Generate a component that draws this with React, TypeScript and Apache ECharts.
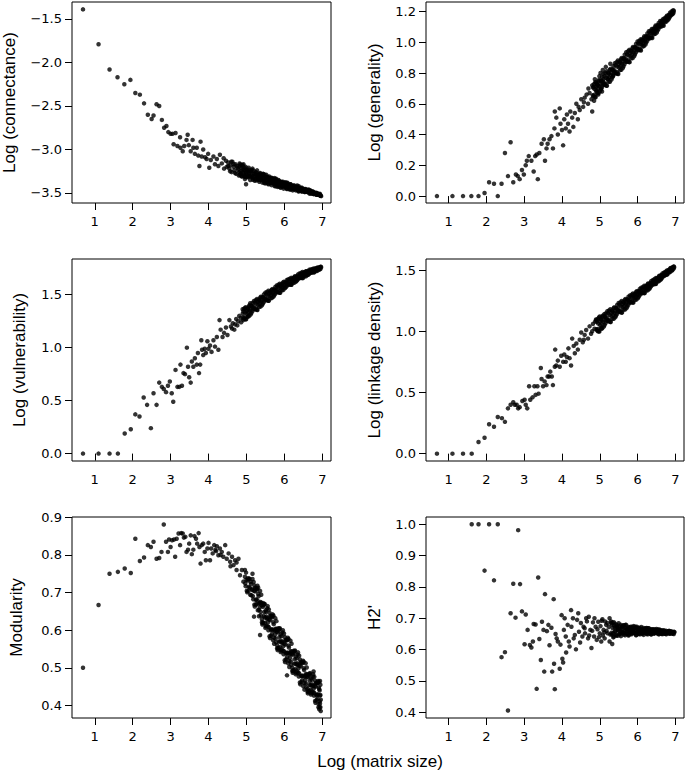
import React, { useEffect, useRef } from "react";
import * as echarts from "echarts";

const xTicks = [1, 2, 3, 4, 5, 6, 7];
const connectanceTicks = [-3.5, -3.0, -2.5, -2.0, -1.5];
const generalityTicks = [0, 0.2, 0.4, 0.6, 0.8, 1.0, 1.2];
const vulnerabilityTicks = [0, 0.5, 1.0, 1.5];
const linkageTicks = [0, 0.5, 1.0, 1.5];
const modularityTicks = [0.4, 0.5, 0.6, 0.7, 0.8, 0.9];
const h2Ticks = [0.4, 0.5, 0.6, 0.7, 0.8, 0.9, 1.0];

const yNames = ["Log (connectance)", "Log (generality)", "Log (vulnerability)", "Log (linkage density)", "Modularity", "H2'"];
const xName = "Log (matrix size)";

const connectance = [
  [0.69,-1.39],[1.10,-1.79],[1.39,-2.08],[1.60,-2.17],[1.78,-2.25],[1.94,-2.20],[2.07,-2.35],[2.19,-2.37],[2.30,-2.47],[2.40,-2.60],
  [2.50,-2.65],[2.55,-2.61],[2.63,-2.48],[2.70,-2.50],[2.77,-2.66],[2.83,-2.75],[2.89,-2.73],[2.94,-2.80],[3.00,-2.82],[3.05,-2.82],
  [3.13,-2.81],[3.08,-2.94],[3.18,-2.96],[3.25,-2.86],[3.26,-2.98],[3.32,-3.02],[3.36,-2.96],[3.42,-2.89],[3.45,-2.83],[3.48,-2.95],
  [3.53,-3.02],[3.58,-2.89],[3.60,-2.98],[3.64,-3.05],[3.69,-2.98],[3.73,-3.07],[3.76,-3.19],[3.79,-2.91],[3.82,-3.08],[3.86,-3.00],
  [3.91,-3.09],[3.95,-3.11],[3.99,-3.05],[4.02,-3.21],[4.06,-3.12],[4.13,-3.08],[4.17,-3.17],[4.22,-3.11],[4.26,-3.19],[4.30,-3.06],
  [4.35,-3.16],[4.41,-3.22],[4.46,-3.13],[4.52,-3.19],[4.57,-3.25],[4.66,-3.17],[4.70,-3.27],[4.76,-3.21],[4.83,-3.29],[4.92,-3.17],
  [4.99,-3.40],[4.96,-3.31],[4.40,-3.10],[4.48,-3.20],[4.60,-3.14],
  [4.52,-3.15],[4.55,-3.22],[4.58,-3.18],[4.61,-3.26],[4.63,-3.14],[4.66,-3.20],[4.68,-3.24],[4.71,-3.17],[4.73,-3.28],[4.75,-3.19],
  [4.78,-3.23],[4.80,-3.30],[4.82,-3.16],[4.84,-3.25],[4.86,-3.21],[4.88,-3.31],[4.90,-3.18],[4.92,-3.27],[4.94,-3.23],[4.96,-3.34],
  [4.98,-3.20],[5.00,-3.29],[5.02,-3.24],[5.04,-3.32],[5.06,-3.21],[5.08,-3.27],[5.10,-3.35],[5.12,-3.25],[5.14,-3.30],[5.16,-3.22],
  [5.18,-3.33],[5.20,-3.28],[5.22,-3.36],[5.24,-3.26],[5.26,-3.31],[5.28,-3.24],[5.30,-3.34],[5.32,-3.29],[5.34,-3.37],[5.36,-3.27],
  [5.38,-3.32],[5.40,-3.30],[5.42,-3.38],[5.44,-3.28],[5.46,-3.34],[5.48,-3.31],[5.50,-3.39],[5.52,-3.29],[5.54,-3.35],[5.56,-3.32],
  [5.58,-3.40],[5.60,-3.31],[5.62,-3.36],[5.64,-3.33],[5.66,-3.41],[5.68,-3.33],[5.70,-3.38],[5.72,-3.35],[5.74,-3.42],[5.76,-3.34],
  [5.78,-3.39],[5.80,-3.36],[5.82,-3.43],[5.84,-3.35],[5.86,-3.40],[5.88,-3.38],[5.90,-3.44],[5.92,-3.37],[5.94,-3.41],[5.96,-3.39],
  [5.98,-3.45],[6.00,-3.38],[6.02,-3.42],[6.04,-3.40],[6.06,-3.45],[6.08,-3.39],[6.10,-3.43],[6.12,-3.41],[6.14,-3.46],[6.16,-3.40],
  [6.18,-3.44],[6.20,-3.42],[6.22,-3.47],[6.24,-3.42],[6.26,-3.45],[6.28,-3.43],[6.30,-3.47],[6.32,-3.43],[6.34,-3.46],[6.36,-3.44],
  [6.38,-3.48],[6.40,-3.44],[6.42,-3.47],[6.44,-3.45],[6.46,-3.48],[6.48,-3.45],[6.50,-3.47],[6.52,-3.46],[6.54,-3.49],[6.56,-3.46],
  [6.58,-3.48],[6.60,-3.47],[6.62,-3.49],[6.64,-3.47],[6.66,-3.49],[6.68,-3.48],[6.70,-3.50],[6.72,-3.48],[6.74,-3.50],[6.76,-3.49],
  [6.78,-3.51],[6.80,-3.50],[6.82,-3.51],[6.84,-3.50],[6.86,-3.52],[6.88,-3.51],[6.90,-3.52],[6.92,-3.52],[6.94,-3.53],[6.96,-3.53],
  [4.81,-3.258],[4.84,-3.173],[4.87,-3.305],[4.90,-3.227],[4.93,-3.303],[4.96,-3.211],[4.99,-3.273],[5.02,-3.243],[5.05,-3.307],[5.08,-3.275],
  [5.11,-3.309],[5.14,-3.236],[5.17,-3.348],[5.20,-3.280],[5.23,-3.344],[5.26,-3.264],[5.29,-3.317],[5.32,-3.287],[5.35,-3.347],[5.38,-3.317],
  [5.41,-3.349],[5.44,-3.282],[5.47,-3.386],[5.50,-3.323],[5.53,-3.379],[5.56,-3.313],[5.59,-3.358],[5.62,-3.332],[5.65,-3.386],[5.68,-3.360],
  [5.71,-3.389],[5.74,-3.329],[5.77,-3.423],[5.80,-3.368],[5.83,-3.418],[5.86,-3.358],[5.89,-3.400],[5.92,-3.377],[5.95,-3.425],[5.98,-3.403],
  [6.01,-3.427],[6.04,-3.378],[6.07,-3.454],[6.10,-3.409],[6.13,-3.452],[6.16,-3.399],[6.19,-3.434],[6.22,-3.415],[6.25,-3.455],[6.28,-3.436],
  [6.31,-3.457],[6.34,-3.414],[6.37,-3.481],[6.40,-3.443],[6.43,-3.477],[6.46,-3.438],[6.49,-3.465],[6.52,-3.453],[6.55,-3.483],[6.58,-3.471],
  [6.61,-3.488],[6.64,-3.460],[6.67,-3.508],[6.70,-3.484],[6.73,-3.508],[6.76,-3.484],[6.79,-3.504],[6.82,-3.498],[6.85,-3.518],[6.88,-3.511],
  [6.91,-3.522],[6.94,-3.510],[6.97,-3.536],
  [4.82,-3.193],[4.85,-3.274],[4.88,-3.183],[4.91,-3.265],[4.94,-3.236],[4.97,-3.317],[5.00,-3.261],[5.03,-3.312],[5.06,-3.231],[5.09,-3.303],
  [5.12,-3.252],[5.15,-3.320],[5.18,-3.242],[5.21,-3.310],[5.24,-3.285],[5.27,-3.355],[5.30,-3.304],[5.33,-3.350],[5.36,-3.278],[5.39,-3.343],
  [5.42,-3.298],[5.45,-3.359],[5.48,-3.290],[5.51,-3.351],[5.54,-3.329],[5.57,-3.392],[5.60,-3.347],[5.63,-3.389],[5.66,-3.325],[5.69,-3.383],
  [5.72,-3.343],[5.75,-3.398],[5.78,-3.337],[5.81,-3.392],[5.84,-3.373],[5.87,-3.429],[5.90,-3.390],[5.93,-3.427],[5.96,-3.371],[5.99,-3.423],
  [6.02,-3.389],[6.05,-3.436],[6.08,-3.383],[6.11,-3.429],[6.14,-3.412],[6.17,-3.459],[6.20,-3.427],[6.23,-3.456],[6.26,-3.412],[6.29,-3.453],
  [6.32,-3.427],[6.35,-3.463],[6.38,-3.423],[6.41,-3.461],[6.44,-3.449],[6.47,-3.483],[6.50,-3.461],[6.53,-3.485],[6.56,-3.454],[6.59,-3.484],
  [6.62,-3.467],[6.65,-3.494],[6.68,-3.469],[6.71,-3.495],[6.74,-3.489],[6.77,-3.513],[6.80,-3.501],[6.83,-3.517],[6.86,-3.499],[6.89,-3.519],
  [6.92,-3.511],[6.95,-3.528]
];

const generality = [
  [0.69,0],[1.10,0],[1.38,0],[1.60,0],[1.79,0],[1.95,0.02],[2.07,0.09],[2.20,0.08],[2.30,0],[2.40,0.08],
  [2.49,0.28],[2.57,0.13],[2.64,0.35],[2.71,0.09],[2.78,0.14],[2.83,0.13],[2.88,0.11],[2.94,0.17],[2.99,0.14],[3.04,0.20],
  [3.07,0.23],[3.12,0.26],[3.19,0.23],[3.25,0.16],[3.29,0.26],[3.33,0.27],[3.36,0.11],[3.40,0.28],[3.46,0.34],[3.52,0.37],
  [3.55,0.23],[3.59,0.31],[3.62,0.34],[3.67,0.37],[3.72,0.39],[3.76,0.31],[3.80,0.44],[3.81,0.55],[3.85,0.51],[3.89,0.40],
  [3.94,0.57],[3.96,0.47],[4.00,0.43],[4.03,0.33],[4.06,0.50],[4.10,0.44],[4.13,0.53],[4.16,0.47],[4.20,0.42],[4.22,0.55],
  [4.27,0.51],[4.30,0.45],[4.34,0.54],[4.38,0.60],[4.42,0.50],[4.47,0.56],[4.51,0.63],[4.56,0.58],[4.60,0.64],[4.65,0.66],
  [4.69,0.60],[4.73,0.67],[4.78,0.63],[4.80,0.55],[4.84,0.71],[4.87,0.76],[4.91,0.68],[4.95,0.72],[4.99,0.78],[5.04,0.70],
  [5.08,0.82],[5.10,0.76],[4.85,0.62],[4.90,0.74],[4.96,0.66],[5.02,0.80],[5.06,0.68],[5.12,0.73],[5.16,0.84],[5.22,0.76],
  [5.28,0.86],[5.35,0.78],[4.44,0.58],[4.58,0.61],[4.70,0.70],
  [4.80,0.720],[4.83,0.648],[4.86,0.696],[4.89,0.643],[4.92,0.730],[4.95,0.698],[4.98,0.755],[5.01,0.682],[5.04,0.750],[5.07,0.737],
  [5.10,0.795],[5.13,0.722],[5.16,0.769],[5.19,0.717],[5.22,0.803],[5.25,0.771],[5.28,0.827],[5.31,0.758],[5.34,0.822],[5.37,0.811],
  [5.40,0.864],[5.43,0.797],[5.46,0.842],[5.49,0.794],[5.52,0.875],[5.55,0.846],[5.58,0.898],[5.61,0.833],[5.64,0.895],[5.67,0.884],
  [5.70,0.935],[5.73,0.873],[5.76,0.915],[5.79,0.871],[5.82,0.947],[5.85,0.919],[5.88,0.970],[5.91,0.909],[5.94,0.967],[5.97,0.958],
  [6.00,1.005],[6.03,0.948],[6.06,0.988],[6.09,0.947],[6.12,1.018],[6.15,0.995],[6.18,1.039],[6.21,0.986],[6.24,1.038],[6.27,1.031],
  [6.30,1.072],[6.33,1.026],[6.36,1.060],[6.39,1.028],[6.42,1.088],[6.45,1.068],[6.48,1.109],[6.51,1.064],[6.54,1.110],[6.57,1.105],
  [6.60,1.138],[6.63,1.103],[6.66,1.132],[6.69,1.108],[6.72,1.157],[6.75,1.144],[6.78,1.173],[6.81,1.146],[6.84,1.178],[6.87,1.178],
  [6.90,1.201],[6.93,1.184],[6.96,1.203],
  [4.815,0.655],[4.845,0.727],[4.875,0.644],[4.905,0.712],[4.935,0.669],[4.965,0.746],[4.995,0.714],[5.025,0.751],[5.055,0.708],[5.085,0.746],
  [5.115,0.728],[5.145,0.801],[5.175,0.718],[5.205,0.785],[5.235,0.743],[5.265,0.820],[5.295,0.787],[5.325,0.823],[5.355,0.784],[5.385,0.819],
  [5.415,0.804],[5.445,0.870],[5.475,0.795],[5.505,0.858],[5.535,0.819],[5.565,0.890],[5.595,0.861],[5.625,0.896],[5.655,0.858],[5.685,0.893],
  [5.715,0.878],[5.745,0.941],[5.775,0.872],[5.805,0.930],[5.835,0.896],[5.865,0.961],[5.895,0.935],[5.925,0.968],[5.955,0.933],[5.985,0.965],
  [6.015,0.955],[6.045,1.008],[6.075,0.951],[6.105,1.002],[6.135,0.973],[6.165,1.030],[6.195,1.009],[6.225,1.038],[6.255,1.009],[6.285,1.039],
  [6.315,1.030],[6.345,1.076],[6.375,1.031],[6.405,1.073],[6.435,1.052],[6.465,1.099],[6.495,1.083],[6.525,1.109],[6.555,1.086],[6.585,1.111],
  [6.615,1.108],[6.645,1.141],[6.675,1.112],[6.705,1.144],[6.735,1.131],[6.765,1.166],[6.795,1.158],[6.825,1.177],[6.855,1.165],[6.885,1.184],
  [6.915,1.184],[6.945,1.209],
  [4.82,0.706],[4.85,0.658],[4.88,0.739],[4.91,0.688],[4.94,0.723],[4.97,0.670],[5.00,0.728],[5.03,0.694],[5.06,0.775],[5.09,0.724],
  [5.12,0.779],[5.15,0.732],[5.18,0.812],[5.21,0.761],[5.24,0.797],[5.27,0.743],[5.30,0.801],[5.33,0.771],[5.36,0.845],[5.39,0.800],
  [5.42,0.851],[5.45,0.807],[5.48,0.882],[5.51,0.836],[5.54,0.868],[5.57,0.821],[5.60,0.874],[5.63,0.844],[5.66,0.919],[5.69,0.873],
  [5.72,0.921],[5.75,0.883],[5.78,0.951],[5.81,0.910],[5.84,0.941],[5.87,0.897],[5.90,0.947],[5.93,0.921],[5.96,0.989],[5.99,0.948],
  [6.02,0.992],[6.05,0.959],[6.08,1.019],[6.11,0.985],[6.14,1.012],[6.17,0.976],[6.20,1.019],[6.23,0.998],[6.26,1.058],[6.29,1.023],
  [6.32,1.060],[6.35,1.036],[6.38,1.086],[6.41,1.059],[6.44,1.083],[6.47,1.055],[6.50,1.092],[6.53,1.076],[6.56,1.125],[6.59,1.100],
  [6.62,1.129],[6.65,1.114],[6.68,1.151],[6.71,1.135],[6.74,1.153],[6.77,1.137],[6.80,1.164],[6.83,1.155],[6.86,1.192],[6.89,1.176],
  [6.92,1.198],[6.95,1.191]
];

const vulnerability = [
  [0.69,0],[1.10,0],[1.39,0],[1.61,0],[1.79,0.19],[1.95,0.23],[2.07,0.37],[2.18,0.35],[2.29,0.53],[2.38,0.46],
  [2.48,0.24],[2.55,0.57],[2.63,0.46],[2.70,0.67],[2.77,0.63],[2.82,0.61],[2.88,0.58],[2.93,0.64],[2.98,0.68],[3.03,0.57],
  [3.07,0.49],[3.13,0.79],[3.18,0.63],[3.23,0.63],[3.26,0.84],[3.30,0.64],[3.34,0.76],[3.38,0.75],[3.43,1.00],[3.46,0.82],
  [3.49,0.72],[3.53,0.67],[3.56,0.87],[3.60,0.82],[3.64,0.90],[3.69,0.84],[3.72,0.95],[3.75,0.76],[3.78,0.84],[3.81,1.07],
  [3.83,0.98],[3.86,0.93],[3.90,0.99],[3.93,0.95],[3.97,1.06],[4.00,0.99],[4.04,1.02],[4.08,0.96],[4.13,1.07],[4.17,1.01],
  [4.22,1.10],[4.26,0.98],[4.29,1.26],[4.32,1.17],[4.37,1.10],[4.41,1.14],[4.46,1.19],[4.50,1.12],[4.55,1.26],[4.59,1.20],
  [4.64,1.23],[4.68,1.17],[4.73,1.27],[4.76,1.21],[4.81,1.30],[4.86,1.24],[4.90,1.32],[4.92,1.26],[4.96,1.37],[5.03,1.29],
  [5.10,1.42],[4.85,1.28],[4.78,1.25],[4.62,1.18],[4.70,1.22],
  [4.90,1.362],[4.93,1.274],[4.96,1.331],[4.99,1.267],[5.02,1.372],[5.05,1.332],[5.08,1.400],[5.11,1.313],[5.14,1.393],[5.17,1.378],
  [5.20,1.441],[5.23,1.361],[5.26,1.414],[5.29,1.356],[5.32,1.453],[5.35,1.417],[5.38,1.480],[5.41,1.401],[5.44,1.475],[5.47,1.462],
  [5.50,1.520],[5.53,1.447],[5.56,1.494],[5.59,1.442],[5.62,1.529],[5.65,1.496],[5.68,1.553],[5.71,1.480],[5.74,1.548],[5.77,1.535],
  [5.80,1.587],[5.83,1.522],[5.86,1.565],[5.89,1.519],[5.92,1.598],[5.95,1.569],[5.98,1.621],[6.01,1.560],[6.04,1.614],[6.07,1.604],
  [6.10,1.645],[6.13,1.595],[6.16,1.629],[6.19,1.593],[6.22,1.655],[6.25,1.633],[6.28,1.674],[6.31,1.624],[6.34,1.672],[6.37,1.664],
  [6.40,1.700],[6.43,1.658],[6.46,1.688],[6.49,1.658],[6.52,1.711],[6.55,1.691],[6.58,1.721],[6.61,1.685],[6.64,1.719],[6.67,1.714],
  [6.70,1.738],[6.73,1.710],[6.76,1.730],[6.79,1.711],[6.82,1.747],[6.85,1.735],[6.88,1.755],[6.91,1.737],[6.94,1.758],[6.97,1.760],
  [4.915,1.282],[4.945,1.369],[4.975,1.269],[5.005,1.349],[5.035,1.298],[5.065,1.390],[5.095,1.351],[5.125,1.395],[5.155,1.343],[5.185,1.388],
  [5.215,1.368],[5.245,1.449],[5.275,1.357],[5.305,1.432],[5.335,1.385],[5.365,1.471],[5.395,1.435],[5.425,1.477],[5.455,1.429],[5.485,1.472],
  [5.515,1.454],[5.545,1.526],[5.575,1.443],[5.605,1.510],[5.635,1.467],[5.665,1.545],[5.695,1.512],[5.725,1.549],[5.755,1.506],[5.785,1.543],
  [5.815,1.528],[5.845,1.594],[5.875,1.519],[5.905,1.581],[5.935,1.542],[5.965,1.614],[5.995,1.584],[6.025,1.618],[6.055,1.578],[6.085,1.612],
  [6.115,1.599],[6.145,1.651],[6.175,1.593],[6.205,1.642],[6.235,1.612],[6.265,1.668],[6.295,1.645],[6.325,1.673],[6.355,1.643],[6.385,1.671],
  [6.415,1.661],[6.445,1.706],[6.475,1.658],[6.505,1.700],[6.535,1.674],[6.565,1.720],[6.595,1.700],[6.625,1.723],[6.655,1.697],[6.685,1.719],
  [6.715,1.712],[6.745,1.742],[6.775,1.711],[6.805,1.739],[6.835,1.723],[6.865,1.755],[6.895,1.743],[6.925,1.760],[6.955,1.744],
  [4.92,1.344],[4.95,1.286],[4.98,1.381],[5.01,1.321],[5.04,1.362],[5.07,1.299],[5.10,1.367],[5.13,1.327],[5.16,1.423],[5.19,1.362],
  [5.22,1.425],[5.25,1.372],[5.28,1.460],[5.31,1.406],[5.34,1.444],[5.37,1.387],[5.40,1.450],[5.43,1.414],[5.46,1.503],[5.49,1.448],
  [5.52,1.505],[5.55,1.457],[5.58,1.537],[5.61,1.486],[5.64,1.522],[5.67,1.468],[5.70,1.526],[5.73,1.492],[5.76,1.572],[5.79,1.522],
  [5.82,1.574],[5.85,1.531],[5.88,1.604],[5.91,1.559],[5.94,1.592],[5.97,1.545],[6.00,1.597],[6.03,1.567],[6.06,1.638],[6.09,1.592],
  [6.12,1.635],[6.15,1.602],[6.18,1.659],[6.21,1.625],[6.24,1.650],[6.27,1.614],[6.30,1.655],[6.33,1.633],[6.36,1.690],[6.39,1.656],
  [6.42,1.692],[6.45,1.665],[6.48,1.715],[6.51,1.685],[6.54,1.707],[6.57,1.674],[6.60,1.709],[6.63,1.688],[6.66,1.736],[6.69,1.706],
  [6.72,1.733],[6.75,1.715],[6.78,1.748],[6.81,1.729],[6.84,1.745],[6.87,1.725],[6.90,1.749],[6.93,1.737],[6.96,1.765]
];

const linkageDensity = [
  [0.69,0],[1.10,0],[1.38,0],[1.61,0],[1.79,0.095],[1.95,0.13],[2.07,0.24],[2.20,0.22],[2.30,0.30],[2.41,0.29],
  [2.49,0.26],[2.57,0.37],[2.64,0.40],[2.71,0.42],[2.75,0.40],[2.80,0.40],[2.84,0.37],[2.88,0.38],[2.95,0.43],[3.01,0.44],
  [3.04,0.40],[3.08,0.37],[3.13,0.55],[3.16,0.44],[3.22,0.46],[3.27,0.55],[3.30,0.48],[3.35,0.55],[3.38,0.49],[3.44,0.70],
  [3.46,0.61],[3.50,0.55],[3.54,0.59],[3.59,0.56],[3.62,0.63],[3.66,0.63],[3.69,0.67],[3.73,0.63],[3.76,0.56],[3.81,0.71],
  [3.82,0.85],[3.85,0.72],[3.89,0.76],[3.94,0.71],[3.98,0.80],[4.03,0.75],[4.06,0.81],[4.10,0.75],[4.13,0.79],[4.17,0.86],
  [4.20,0.78],[4.24,0.72],[4.27,0.94],[4.31,0.88],[4.34,0.82],[4.38,0.90],[4.42,0.85],[4.47,0.93],[4.51,0.99],[4.55,0.91],
  [4.60,0.97],[4.64,1.01],[4.69,0.94],[4.73,1.04],[4.77,0.98],[4.82,1.06],[4.86,1.02],[4.91,1.09],[4.95,1.00],[5.00,1.12],
  [5.05,1.02],[5.12,1.14],[4.88,1.08],[4.80,1.00],[4.58,0.93],
  [4.90,1.096],[4.93,1.007],[4.96,1.062],[4.99,0.998],[5.02,1.101],[5.05,1.060],[5.08,1.127],[5.11,1.038],[5.14,1.118],[5.17,1.101],
  [5.20,1.163],[5.23,1.082],[5.26,1.133],[5.29,1.075],[5.32,1.170],[5.35,1.133],[5.38,1.195],[5.41,1.114],[5.44,1.188],[5.47,1.173],
  [5.50,1.230],[5.53,1.157],[5.56,1.204],[5.59,1.152],[5.62,1.239],[5.65,1.206],[5.68,1.263],[5.71,1.190],[5.74,1.258],[5.77,1.245],
  [5.80,1.292],[5.83,1.235],[5.86,1.274],[5.89,1.234],[5.92,1.305],[5.95,1.280],[5.98,1.327],[6.01,1.270],[6.04,1.325],[6.07,1.316],
  [6.10,1.355],[6.13,1.311],[6.16,1.343],[6.19,1.312],[6.22,1.370],[6.25,1.352],[6.28,1.390],[6.31,1.345],[6.34,1.391],[6.37,1.385],
  [6.40,1.417],[6.43,1.384],[6.46,1.411],[6.49,1.388],[6.52,1.435],[6.55,1.422],[6.58,1.453],[6.61,1.420],[6.64,1.457],[6.67,1.454],
  [6.70,1.479],[6.73,1.457],[6.76,1.479],[6.79,1.464],[6.82,1.500],[6.85,1.492],[6.88,1.516],[6.91,1.495],[6.94,1.523],[6.97,1.523],
  [4.915,1.016],[4.945,1.101],[4.975,1.000],[5.005,1.079],[5.035,1.026],[5.065,1.118],[5.095,1.077],[5.125,1.120],[5.155,1.067],[5.185,1.110],
  [5.215,1.090],[5.245,1.169],[5.275,1.076],[5.305,1.150],[5.335,1.101],[5.365,1.187],[5.395,1.149],[5.425,1.190],[5.455,1.141],[5.485,1.182],
  [5.515,1.164],[5.545,1.236],[5.575,1.153],[5.605,1.220],[5.635,1.177],[5.665,1.255],[5.695,1.222],[5.725,1.259],[5.755,1.216],[5.785,1.253],
  [5.815,1.240],[5.845,1.299],[5.875,1.234],[5.905,1.289],[5.935,1.256],[5.965,1.320],[5.995,1.295],[6.025,1.326],[6.055,1.293],[6.085,1.324],
  [6.115,1.313],[6.145,1.362],[6.175,1.311],[6.205,1.357],[6.235,1.332],[6.265,1.383],[6.295,1.365],[6.325,1.391],[6.355,1.366],[6.385,1.392],
  [6.415,1.385],[6.445,1.425],[6.475,1.386],[6.505,1.424],[6.535,1.405],[6.565,1.448],[6.595,1.434],[6.625,1.457],[6.655,1.438],[6.685,1.461],
  [6.715,1.457],[6.745,1.487],[6.775,1.462],[6.805,1.490],[6.835,1.479],[6.865,1.512],[6.895,1.504],[6.925,1.522],[6.955,1.511],
  [4.92,1.077],[4.95,1.018],[4.98,1.112],[5.01,1.050],[5.04,1.091],[5.07,1.026],[5.10,1.093],[5.13,1.052],[5.16,1.146],[5.19,1.085],
  [5.22,1.146],[5.25,1.092],[5.28,1.179],[5.31,1.123],[5.34,1.161],[5.37,1.102],[5.40,1.164],[5.43,1.127],[5.46,1.214],[5.49,1.159],
  [5.52,1.215],[5.55,1.167],[5.58,1.247],[5.61,1.196],[5.64,1.232],[5.67,1.178],[5.70,1.236],[5.73,1.202],[5.76,1.282],[5.79,1.232],
  [5.82,1.281],[5.85,1.244],[5.88,1.309],[5.91,1.270],[5.94,1.300],[5.97,1.259],[6.00,1.306],[6.03,1.281],[6.06,1.346],[6.09,1.307],
  [6.12,1.347],[6.15,1.319],[6.18,1.371],[6.21,1.342],[6.24,1.366],[6.27,1.335],[6.30,1.374],[6.33,1.355],[6.36,1.409],[6.39,1.379],
  [6.42,1.412],[6.45,1.391],[6.48,1.434],[6.51,1.412],[6.54,1.433],[6.57,1.410],[6.60,1.442],[6.63,1.429],[6.66,1.472],[6.69,1.450],
  [6.72,1.477],[6.75,1.464],[6.78,1.496],[6.81,1.482],[6.84,1.499],[6.87,1.485],[6.90,1.510],[6.93,1.502],[6.96,1.530]
];

const modularity = [
  [0.69,0.500],[1.10,0.667],[1.39,0.750],[1.61,0.755],[1.79,0.764],[1.95,0.752],[2.07,0.843],[2.19,0.784],[2.30,0.793],[2.40,0.826],
  [2.48,0.821],[2.55,0.835],[2.63,0.790],[2.70,0.792],[2.76,0.808],[2.82,0.881],[2.88,0.835],[2.93,0.808],[2.96,0.841],[3.00,0.821],
  [3.04,0.839],[3.09,0.841],[3.12,0.795],[3.16,0.843],[3.21,0.857],[3.25,0.826],[3.28,0.858],[3.32,0.857],[3.35,0.846],[3.39,0.848],
  [3.42,0.808],[3.46,0.814],[3.49,0.830],[3.53,0.852],[3.56,0.802],[3.60,0.814],[3.63,0.850],[3.67,0.843],[3.70,0.830],[3.74,0.858],
  [3.76,0.821],[3.79,0.777],[3.82,0.826],[3.86,0.830],[3.90,0.808],[3.93,0.786],[3.97,0.817],[4.00,0.832],[4.04,0.786],[4.07,0.817],
  [4.11,0.804],[4.15,0.826],[4.18,0.813],[4.22,0.823],[4.26,0.799],[4.30,0.817],[4.35,0.808],[4.39,0.795],[4.44,0.826],[4.48,0.790],
  [4.53,0.804],[4.57,0.782],[4.62,0.795],[4.66,0.773],[4.70,0.786],[4.74,0.760],[4.79,0.790],[4.83,0.746],[4.88,0.760],[4.92,0.729],
  [4.96,0.742],[5.36,0.587],[5.20,0.636],[6.77,0.490],[6.07,0.480],[5.16,0.750],[4.20,0.810],[4.32,0.800],[4.58,0.770],[4.74,0.780],
  [4.96,0.760],[4.98,0.717],[5.00,0.734],[5.02,0.701],[5.04,0.738],[5.06,0.715],[5.08,0.737],[5.10,0.694],[5.12,0.723],[5.14,0.707],
  [5.16,0.736],[5.18,0.682],[5.20,0.704],[5.22,0.663],[5.24,0.711],[5.26,0.682],[5.28,0.710],[5.30,0.653],[5.32,0.690],[5.34,0.671],
  [5.36,0.704],[5.38,0.639],[5.40,0.666],[5.42,0.615],[5.44,0.672],[5.46,0.637],[5.48,0.670],[5.50,0.606],[5.52,0.648],[5.54,0.630],
  [5.56,0.664],[5.58,0.600],[5.60,0.628],[5.62,0.579],[5.64,0.637],[5.66,0.602],[5.68,0.637],[5.70,0.574],[5.72,0.616],[5.74,0.598],
  [5.76,0.632],[5.78,0.568],[5.80,0.596],[5.82,0.547],[5.84,0.605],[5.86,0.570],[5.88,0.605],[5.90,0.542],[5.92,0.584],[5.94,0.566],
  [5.96,0.600],[5.98,0.536],[6.00,0.564],[6.02,0.515],[6.04,0.573],[6.06,0.540],[6.08,0.575],[6.10,0.512],[6.12,0.554],[6.14,0.536],
  [6.16,0.572],[6.18,0.508],[6.20,0.536],[6.22,0.487],[6.24,0.545],[6.26,0.511],[6.28,0.546],[6.30,0.483],[6.32,0.525],[6.34,0.507],
  [6.36,0.541],[6.38,0.477],[6.40,0.505],[6.42,0.456],[6.44,0.514],[6.46,0.479],[6.48,0.514],[6.50,0.451],[6.52,0.494],[6.54,0.476],
  [6.56,0.512],[6.58,0.448],[6.60,0.476],[6.62,0.432],[6.64,0.484],[6.66,0.454],[6.68,0.486],[6.70,0.429],[6.72,0.468],[6.74,0.451],
  [6.76,0.483],[6.78,0.426],[6.80,0.451],[6.82,0.407],[6.84,0.459],[6.86,0.429],[6.88,0.461],[6.90,0.404],[6.92,0.443],[6.94,0.426],
  [4.97,0.724],[4.99,0.753],[5.01,0.705],[5.03,0.732],[5.05,0.704],[5.07,0.736],[5.09,0.713],[5.11,0.728],[5.13,0.693],[5.15,0.709],
  [5.17,0.690],[5.19,0.728],[5.21,0.668],[5.23,0.703],[5.25,0.668],[5.27,0.708],[5.29,0.679],[5.31,0.696],[5.33,0.654],[5.35,0.672],
  [5.37,0.649],[5.39,0.694],[5.41,0.621],[5.43,0.662],[5.45,0.620],[5.47,0.669],[5.49,0.634],[5.51,0.653],[5.53,0.612],[5.55,0.632],
  [5.57,0.610],[5.59,0.655],[5.61,0.584],[5.63,0.627],[5.65,0.585],[5.67,0.635],[5.69,0.602],[5.71,0.621],[5.73,0.580],[5.75,0.600],
  [5.77,0.578],[5.79,0.624],[5.81,0.552],[5.83,0.594],[5.85,0.553],[5.87,0.603],[5.89,0.570],[5.91,0.589],[5.93,0.548],[5.95,0.568],
  [5.97,0.545],[5.99,0.591],[6.01,0.520],[6.03,0.562],[6.05,0.522],[6.07,0.573],[6.09,0.540],[6.11,0.559],[6.13,0.518],[6.15,0.539],
  [6.17,0.517],[6.19,0.564],[6.21,0.492],[6.23,0.535],[6.25,0.494],[6.27,0.544],[6.29,0.511],[6.31,0.530],[6.33,0.490],[6.35,0.509],
  [6.37,0.487],[6.39,0.532],[6.41,0.461],[6.43,0.504],[6.45,0.462],[6.47,0.512],[6.49,0.479],[6.51,0.499],[6.53,0.459],[6.55,0.479],
  [6.57,0.458],[6.59,0.501],[6.61,0.437],[6.63,0.475],[6.65,0.439],[6.67,0.484],[6.69,0.454],[6.71,0.472],[6.73,0.436],[6.75,0.453],
  [6.77,0.434],[6.79,0.476],[6.81,0.412],[6.83,0.450],[6.85,0.414],[6.87,0.459],[6.89,0.429],[6.91,0.447],[6.93,0.411],[6.95,0.428],
  [6.95,0.395],[6.94,0.405],[6.96,0.415],[6.93,0.440],[6.95,0.455],[6.92,0.390],[6.96,0.385],[6.94,0.465],[6.90,0.395],
  [5.21,0.719],[5.25,0.680],[5.29,0.718],[5.33,0.637],[5.37,0.675],[5.41,0.629],[5.45,0.666],[5.49,0.619],[5.53,0.636],[5.57,0.621],
  [5.61,0.646],[5.65,0.601],[5.69,0.642],[5.73,0.564],[5.77,0.604],[5.81,0.560],[5.85,0.599],[5.89,0.555],[5.93,0.571],[5.97,0.557],
  [6.01,0.582],[6.05,0.538],[6.09,0.580],[6.13,0.502],[6.17,0.544],[6.21,0.500],[6.25,0.540],[6.29,0.496],[6.33,0.512],[6.37,0.498],
  [6.41,0.522],[6.45,0.478],[6.49,0.519],[6.53,0.442],[6.57,0.484],[6.61,0.444],[6.65,0.480],[6.69,0.441],[6.73,0.456],[6.77,0.444],
  [6.81,0.466],[6.85,0.427],[6.89,0.465],[6.93,0.395],
  [5.23,0.713],[5.27,0.669],[5.31,0.713],[5.35,0.661],[5.39,0.673],[5.43,0.619],[5.47,0.648],[5.51,0.610],[5.55,0.658],[5.59,0.608],
  [5.63,0.638],[5.67,0.590],[5.71,0.639],[5.75,0.588],[5.79,0.603],[5.83,0.551],[5.87,0.582],[5.91,0.546],[5.95,0.594],[5.99,0.544],
  [6.03,0.574],[6.07,0.528],[6.11,0.577],[6.15,0.527],[6.19,0.543],[6.23,0.491],[6.27,0.523],[6.31,0.487],[6.35,0.535],[6.39,0.485],
  [6.43,0.515],[6.47,0.467],[6.51,0.516],[6.55,0.467],[6.59,0.482],[6.63,0.436],[6.67,0.465],[6.71,0.433],[6.75,0.477],[6.79,0.433],
  [6.83,0.460],[6.87,0.418],[6.91,0.462]
];

const h2 = [
  [1.61,1.0],[1.79,1.0],[2.07,1.0],[2.30,1.0],[1.95,0.852],[2.20,0.821],[2.84,0.981],[2.71,0.810],[2.89,0.809],[3.37,0.830],
  [2.40,0.576],[2.49,0.592],[2.57,0.406],[2.64,0.716],[2.77,0.702],[2.94,0.722],[3.04,0.712],[3.01,0.617],[3.09,0.663],[3.15,0.615],
  [3.19,0.607],[3.23,0.626],[3.25,0.682],[3.30,0.680],[3.33,0.475],[3.40,0.634],[3.44,0.567],[3.47,0.689],[3.51,0.663],[3.53,0.530],
  [3.55,0.777],[3.60,0.659],[3.64,0.679],[3.67,0.614],[3.72,0.670],[3.74,0.530],[3.78,0.761],[3.79,0.555],[3.81,0.474],[3.83,0.650],
  [3.86,0.636],[3.89,0.626],[3.94,0.539],[3.96,0.616],[3.99,0.710],[4.01,0.571],[4.03,0.559],[4.05,0.663],[4.07,0.700],[4.10,0.642],
  [4.11,0.591],[4.15,0.679],[4.18,0.626],[4.20,0.610],[4.24,0.726],[4.25,0.673],[4.29,0.700],[4.31,0.636],[4.34,0.647],[4.37,0.601],
  [4.40,0.695],[4.43,0.716],[4.45,0.657],[4.48,0.623],[4.50,0.685],[4.54,0.642],[4.57,0.673],[4.61,0.652],[4.64,0.700],[4.69,0.636],
  [4.71,0.705],[4.75,0.663],[4.78,0.605],[4.82,0.687],[4.85,0.642],[4.89,0.673],[4.92,0.631],[4.96,0.689],[5.00,0.652],[5.04,0.626],
  [5.07,0.697],[5.10,0.663],[5.13,0.636],[5.17,0.679],[5.21,0.652],[5.26,0.626],[5.30,0.685],[5.33,0.618],
  [4.60,0.668],[4.66,0.690],[4.72,0.645],[4.80,0.660],[4.86,0.700],[4.94,0.665],[5.02,0.675],[5.08,0.645],[5.14,0.690],[5.18,0.660],
  [5.24,0.672],[5.28,0.648],[4.98,0.640],[5.05,0.692],[5.12,0.655],[5.20,0.685],[5.26,0.700],
  [5.30,0.690],[5.32,0.648],[5.34,0.669],[5.36,0.639],[5.38,0.678],[5.40,0.658],[5.42,0.681],[5.44,0.645],[5.46,0.672],[5.48,0.663],
  [5.50,0.684],[5.52,0.650],[5.54,0.667],[5.56,0.643],[5.58,0.674],[5.60,0.658],[5.62,0.677],[5.64,0.648],[5.66,0.669],[5.68,0.662],
  [5.70,0.679],[5.72,0.652],[5.74,0.664],[5.76,0.645],[5.78,0.671],[5.80,0.658],[5.82,0.673],[5.84,0.649],[5.86,0.667],[5.88,0.661],
  [5.90,0.675],[5.92,0.652],[5.94,0.663],[5.96,0.646],[5.98,0.668],[6.00,0.657],[6.02,0.670],[6.04,0.650],[6.06,0.665],[6.08,0.660],
  [6.10,0.672],[6.12,0.652],[6.14,0.661],[6.16,0.647],[6.18,0.666],[6.20,0.657],[6.22,0.668],[6.24,0.650],[6.26,0.663],[6.28,0.658],
  [6.30,0.668],[6.32,0.652],[6.34,0.660],[6.36,0.648],[6.38,0.664],[6.40,0.656],[6.42,0.665],[6.44,0.651],[6.46,0.661],[6.48,0.657],
  [6.50,0.666],[6.52,0.652],[6.54,0.659],[6.56,0.649],[6.58,0.661],[6.60,0.654],[6.62,0.662],[6.64,0.650],[6.66,0.659],[6.68,0.656],
  [6.70,0.662],[6.72,0.651],[6.74,0.656],[6.76,0.649],[6.78,0.658],[6.80,0.654],[6.82,0.659],[6.84,0.651],[6.86,0.657],[6.88,0.654],
  [6.90,0.658],[6.92,0.652],[6.94,0.655],[6.96,0.650],[6.98,0.656],
  [5.31,0.654],[5.34,0.687],[5.37,0.642],[5.40,0.670],[5.43,0.647],[5.46,0.678],[5.49,0.661],[5.52,0.674],[5.55,0.653],[5.58,0.664],
  [5.61,0.654],[5.64,0.678],[5.67,0.646],[5.70,0.667],[5.73,0.650],[5.76,0.672],[5.79,0.659],[5.82,0.669],[5.85,0.654],[5.88,0.663],
  [5.91,0.654],[5.94,0.673],[5.97,0.647],[6.00,0.664],[6.03,0.651],[6.06,0.669],[6.09,0.659],[6.12,0.665],[6.15,0.653],[6.18,0.660],
  [6.21,0.655],[6.24,0.669],[6.27,0.649],[6.30,0.661],[6.33,0.651],[6.36,0.665],[6.39,0.657],[6.42,0.663],[6.45,0.653],[6.48,0.658],
  [6.51,0.653],[6.54,0.664],[6.57,0.650],[6.60,0.658],[6.63,0.651],[6.66,0.661],[6.69,0.655],[6.72,0.658],[6.75,0.652],[6.78,0.656],
  [6.81,0.653],[6.84,0.660],[6.87,0.651],[6.90,0.655],[6.93,0.651],[6.96,0.657],
  [5.32,0.680],[5.35,0.652],[5.38,0.687],[5.41,0.658],[5.44,0.671],[5.47,0.644],[5.50,0.666],[5.53,0.649],[5.56,0.679],[5.59,0.655],
  [5.62,0.673],[5.65,0.653],[5.68,0.679],[5.71,0.659],[5.74,0.667],[5.77,0.647],[5.80,0.663],[5.83,0.651],[5.86,0.673],[5.89,0.656],
  [5.92,0.668],[5.95,0.653],[5.98,0.673],[6.01,0.657],[6.04,0.665],[6.07,0.649],[6.10,0.661],[6.13,0.651],[6.16,0.669],[6.19,0.655],
  [6.22,0.666],[6.25,0.653],[6.28,0.668],[6.31,0.656],[6.34,0.662],[6.37,0.650],[6.40,0.659],[6.43,0.652],[6.46,0.664],[6.49,0.654],
  [6.52,0.662],[6.55,0.653],[6.58,0.664],[6.61,0.654],[6.64,0.658],[6.67,0.650],[6.70,0.657],[6.73,0.651],[6.76,0.660],[6.79,0.653],
  [6.82,0.658],[6.85,0.652],[6.88,0.658],[6.91,0.653],[6.94,0.655]
];

const seriesData = [connectance, generality, vulnerability, linkageDensity, modularity, h2];
const yTickSets = [connectanceTicks, generalityTicks, vulnerabilityTicks, linkageTicks, modularityTicks, h2Ticks];
const yRanges = [[-3.615, -1.305], [-0.045, 1.262], [-0.07, 1.837], [-0.06, 1.59], [0.3666, 0.9008], [0.382, 1.023]];

export default function App() {
  const ref = useRef<HTMLDivElement>(null);
  useEffect(() => {
    if (!ref.current) return;
    const chart = echarts.init(ref.current, null, { renderer: "svg" });
    const lefts = [72, 426];
    const widths = [259, 258];
    const tops = [2, 259, 517];
    const heights = [201, 202, 201];
    const nameGaps = [54, 43, 44, 43, 47, 43];
    const grids: any[] = [];
    const xAxes: any[] = [];
    const yAxes: any[] = [];
    const series: any[] = [];
    for (let i = 0; i < 6; i++) {
      const col = i % 2;
      const row = Math.floor(i / 2);
      grids.push({
        left: lefts[col], top: tops[row], width: widths[col], height: heights[row],
        show: true, borderColor: "#000", borderWidth: 1, backgroundColor: "transparent",
      });
      xAxes.push({
        type: "value", gridIndex: i, min: 0.40, max: 7.23,
        axisLine: { show: false },
        splitLine: { show: false },
        axisTick: { show: true, length: 7, customValues: xTicks, lineStyle: { color: "#000", width: 1 } },
        axisLabel: {
          customValues: xTicks, margin: 12, fontSize: 13, fontFamily: "DejaVu Sans", color: "#000",
          formatter: (v: number) => String(Math.round(v)),
        },
      });
      yAxes.push({
        type: "value", gridIndex: i, min: yRanges[i][0], max: yRanges[i][1],
        name: yNames[i], nameLocation: "middle", nameGap: nameGaps[i],
        nameTextStyle: { fontSize: 17, fontFamily: "Liberation Sans", color: "#000" },
        axisLine: { show: false },
        splitLine: { show: false },
        axisTick: { show: true, length: 7, customValues: yTickSets[i], lineStyle: { color: "#000", width: 1 } },
        axisLabel: {
          customValues: yTickSets[i], margin: 10, fontSize: 13, fontFamily: "DejaVu Sans", color: "#000",
          formatter: (v: number) => v.toFixed(1).replace("-", "\u2212"),
        },
      });
      series.push({
        type: "scatter", xAxisIndex: i, yAxisIndex: i, data: seriesData[i],
        symbol: "circle", symbolSize: 4.5, itemStyle: { color: "#000" }, silent: true,
      });
    }
    chart.setOption({
      animation: false,
      backgroundColor: "#fff",
      grid: grids,
      xAxis: xAxes,
      yAxis: yAxes,
      series,
      graphic: [
        {
          type: "text", x: 380, y: 761,
          style: {
            text: xName, fill: "#000", fontSize: 17, fontFamily: "Liberation Sans",
            textAlign: "center", textVerticalAlign: "middle", align: "center", verticalAlign: "middle",
          },
        },
      ],
    });
    return () => chart.dispose();
  }, []);
  return <div ref={ref} style={{ position: "absolute", left: 0, top: 0, width: 687, height: 772 }} />;
}
